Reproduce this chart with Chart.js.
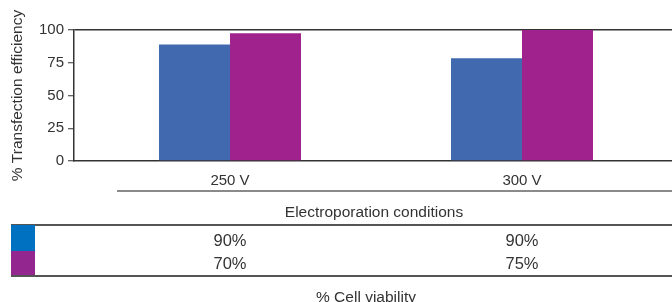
<!DOCTYPE html>
<html><head><meta charset="utf-8">
<script src="https://cdn.jsdelivr.net/npm/chart.js@4.4.1/dist/chart.umd.min.js"></script>
<style>
html,body{margin:0;padding:0;background:#fff;}
#wrap{position:relative;width:672px;height:302px;overflow:hidden;font-family:"Liberation Sans",Arial,sans-serif;color:#333;}
#c{position:absolute;left:0;top:0;}
.abs{position:absolute;white-space:nowrap;}
.lbl{text-align:center;line-height:18px;height:18px;}
</style></head><body>
<div id="wrap"><canvas id="c" width="672" height="302"></canvas></div>
<script>
// ---- data ----
const categories = ['250 V', '300 V'];
const efficiencyBlue = [89, 78.5];
const efficiencyMagenta = [97.5, 100];
const viabilityBlue = ['90%', '90%'];
const viabilityMagenta = ['70%', '75%'];
const yTicks = [0, 25, 50, 75, 100];
const xAxisTitle = 'Electroporation conditions';
const yAxisTitle = '% Transfection efficiency';
const tableTitle = '% Cell viability';

const FONT = '"Liberation Sans", Arial, sans-serif';
const TXT = '#333';

const toPoints = arr => arr.map((v, i) => ({x: i, y: v}));

const chart = new Chart(document.getElementById('c'), {
  type: 'bar',
  data: {
    datasets: [
      {data: toPoints(efficiencyBlue), backgroundColor: '#4169B0', borderWidth: 0},
      {data: toPoints(efficiencyMagenta), backgroundColor: '#A0228C', borderWidth: 0}
    ]
  },
  options: {
    responsive: false,
    animation: false,
    devicePixelRatio: 1,
    categoryPercentage: 0.4863,
    barPercentage: 1,
    layout: {padding: {top: 30, right: 0, left: 0, bottom: 0}},
    plugins: {legend: {display: false}, tooltip: {enabled: false}},
    scales: {
      x: {
        type: 'linear',
        offset: false,
        min: -0.5342,
        max: 1.5137,
        grid: {display: false, offset: false},
        border: {display: true, color: '#333', width: 1.5},
        afterBuildTicks: s => { s.ticks = categories.map((c, i) => ({value: i})); },
        afterFit: s => { s.height = 141; },
        ticks: {
          padding: 3,
          autoSkip: false,
          maxRotation: 0,
          color: TXT,
          font: {family: FONT, size: 15},
          callback: v => categories[v]
        }
      },
      y: {
        min: 0,
        max: 100,
        afterBuildTicks: s => { s.ticks = yTicks.map(v => ({value: v})); },
        afterFit: s => { s.width = 74; },
        grid: {
          color: ctx => (ctx.tick && ctx.tick.value === 100) ? '#333' : 'rgba(0,0,0,0)',
          lineWidth: 1.5,
          drawTicks: true,
          tickLength: 6,
          tickColor: '#333',
          tickWidth: 1
        },
        border: {display: true, color: '#333', width: 1.5},
        ticks: {padding: 4, color: TXT, font: {family: FONT, size: 15}},
        title: {display: true, text: yAxisTitle, color: TXT, font: {family: FONT, size: 15.5}, padding: {top: 8, bottom: 0}}
      }
    }
  }
});

// ---- HTML parts below the axis, aligned to the chart's x scale ----
const wrap = document.getElementById('wrap');
function add(css, text, cls) {
  const d = document.createElement('div');
  d.className = 'abs' + (cls ? ' ' + cls : '');
  Object.assign(d.style, css);
  if (text !== undefined) d.textContent = text;
  wrap.appendChild(d);
  return d;
}
const xs = chart.scales.x;
const area = chart.chartArea;
// rule under category labels
add({left: '117px', top: '190px', width: (area.right - 117) + 'px', height: '2px', background: '#8a8a8a'});
add({left: (374 - 200) + 'px', width: '400px', top: '203px', fontSize: '15.5px'}, xAxisTitle, 'lbl');
// table
add({left: '11px', top: '223.5px', width: (area.right - 11) + 'px', height: '2px', background: '#555'});
add({left: '11px', top: '225px', width: '24px', height: '26px', background: '#0070C0'});
add({left: '11px', top: '251px', width: '24px', height: '24px', background: '#93278F'});
add({left: '11px', top: '274.5px', width: (area.right - 11) + 'px', height: '2px', background: '#555'});
categories.forEach((c, i) => {
  const cx = xs.getPixelForValue(i);
  add({left: (cx - 60) + 'px', width: '120px', top: '231px', fontSize: '16.5px'}, viabilityBlue[i], 'lbl');
  add({left: (cx - 60) + 'px', width: '120px', top: '254px', fontSize: '16.5px'}, viabilityMagenta[i], 'lbl');
});
add({left: (366 - 150) + 'px', width: '300px', top: '288px', fontSize: '15.5px'}, tableTitle, 'lbl');
</script>
</body></html>
